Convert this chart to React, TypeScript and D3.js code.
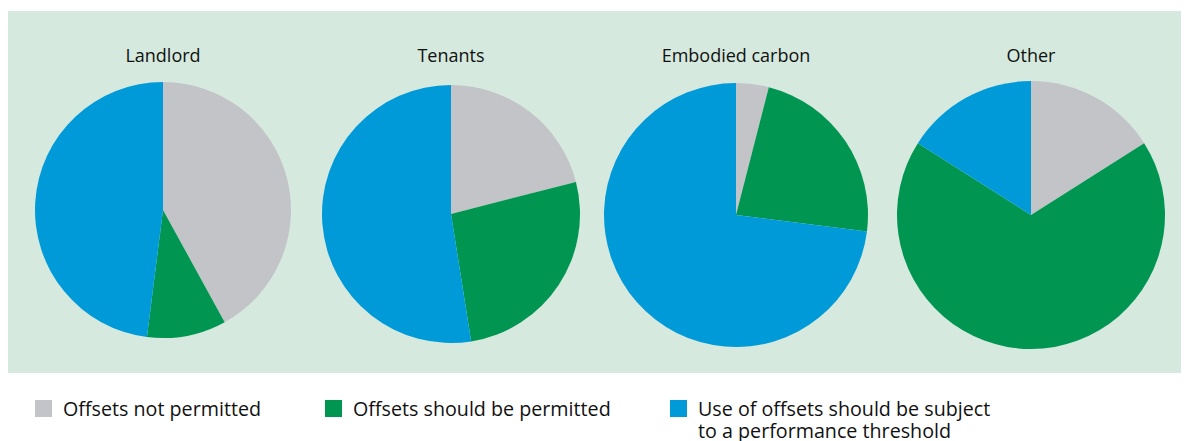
import React from "react";
import * as d3 from "d3";

// slices in order: not permitted, should be permitted, subject to threshold
const groups = ["Landlord", "Tenants", "Embodied carbon", "Other"];
const notPermitted = [42, 21, 4, 16];
const permitted = [10, 26.5, 23, 68];
const threshold = [48, 52.5, 73, 16];

const legendLabels = [
  ["Offsets not permitted"],
  ["Offsets should be permitted"],
  ["Use of offsets should be subject", "to a performance threshold"],
];

const colors = ["#c3c4c8", "#009550", "#009ad9"];

// layout of each pie (centre x, centre y, radius)
const layout = [
  { cx: 163, cy: 210, r: 128 },
  { cx: 451, cy: 214, r: 129 },
  { cx: 736, cy: 215, r: 132 },
  { cx: 1031, cy: 215, r: 134 },
];
const legendX = [35, 325, 670];

const W = 1189;
const H = 441;
const font = "'Open Sans', 'Noto Sans', sans-serif";

const pie = d3
  .pie<number>()
  .sort(null)
  .value((d) => d);

export default function App() {
  return (
    <svg
      width={W}
      height={H}
      style={{ position: "absolute", left: 0, top: 0 }}
      fontFamily={font}
    >
      <rect x={8} y={11} width={1173} height={362} fill="#d5e9de" />
      {groups.map((g, i) => {
        const { cx, cy, r } = layout[i];
        const arc = d3.arc<d3.PieArcDatum<number>>().innerRadius(0).outerRadius(r);
        const slices = pie([notPermitted[i], permitted[i], threshold[i]]);
        return (
          <g key={g}>
            <text x={cx} y={62} textAnchor="middle" fontSize={18} fill="#111">
              {g}
            </text>
            <g transform={`translate(${cx},${cy})`}>
              {slices.map((s, j) => (
                <path key={j} d={arc(s) || ""} fill={colors[j]} />
              ))}
            </g>
          </g>
        );
      })}
      {legendLabels.map((lines, i) => (
        <g key={i} transform={`translate(${legendX[i]},400)`}>
          <rect width={17} height={17} fill={colors[i]} />
          <text x={28} y={15.5} fontSize={19.7} fill="#111">
            {lines.map((l, k) => (
              <tspan key={k} x={28} dy={k === 0 ? 0 : 22}>
                {l}
              </tspan>
            ))}
          </text>
        </g>
      ))}
    </svg>
  );
}
